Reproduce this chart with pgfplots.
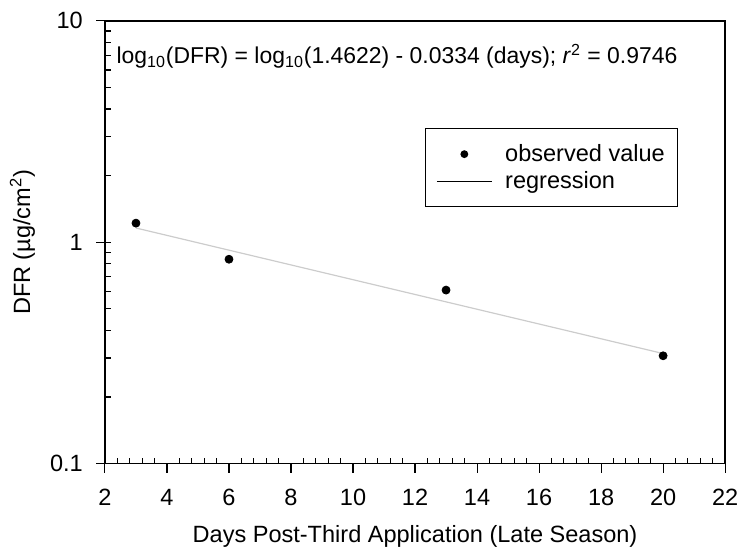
\documentclass[border=0pt]{standalone}
\usepackage{pgfplots}
\pgfplotsset{compat=1.18}
\usepackage{fontspec}
\setmainfont{Liberation Sans}
\newcommand{\fs}{\fontsize{11.8}{13}\selectfont}
\begin{document}
\begin{tikzpicture}
\begin{axis}[
  scale only axis,
  width=311pt, height=222pt,
  ymode=log,
  xmin=2, xmax=22, ymin=0.1, ymax=10,
  xtick={2,4,...,22},
  minor x tick num=4,
  ytick={0.1,1,10},
  yticklabels={0.1,1,10},
  xtick pos=left, ytick pos=left,
  tick align=inside,
  major tick length=-4.5pt,
  minor tick length=3pt,
  tick style={black, line width=0.55pt},
  axis line style={line width=0.75pt},
  /pgf/number format/assume math mode=true,
  tick label style={font=\fs},
  xticklabel style={anchor=base, yshift=-21pt, inner xsep=1.4pt},
  yticklabel style={anchor=east, xshift=-7.6pt, inner ysep=6.3pt},
  xlabel={Days Post-Third Application (Late Season)},
  ylabel={DFR (µg/cm\textsuperscript{2})},
  xlabel style={font=\fs, at={(rel axis cs:0.5,0)}, anchor=base, yshift=-39.5pt, inner sep=1pt},
  ylabel style={font=\fs, at={(rel axis cs:-0.1206,0.5)}, anchor=base, rotate=0, inner sep=5pt},
  legend style={draw=black, line width=0.5pt, fill=white, at={(0.516,0.757)}, anchor=north west,
    font=\fs, row sep=1.6pt, column sep=5.5pt, inner xsep=5.5pt, inner ysep=6.6pt,
    nodes={inner sep=1pt}},
  legend cell align=left,
  clip=false,
]
\addplot[only marks, mark=*, mark size=2pt, black,
  legend image code/.code={\path[draw=none, fill=none] (0pt,0pt) rectangle (27.5pt,0.1pt); \fill[black] (13.75pt,0pt) circle (1.7pt);}] coordinates {
  (3,1.22) (6,0.838) (13,0.608) (20,0.307)
};
\addlegendentry{observed value}
\addplot[no marks, gray!40, line width=0.6pt,
  legend image code/.code={\draw[black, line width=0.5pt] (0pt,0pt) -- (27.5pt,0pt);}] coordinates {
  (3,1.1597) (20,0.3142)
};
\addlegendentry{regression}
\node[anchor=base west, inner sep=0pt, font=\fontsize{11.5}{13}\selectfont] at (rel axis cs:0.018,0.903)
  {log\textsubscript{10}(DFR) = log\textsubscript{10}(1.4622) - 0.0334 (days); \textit{r}\textsuperscript{2} = 0.9746};
\end{axis}
\end{tikzpicture}
\end{document}
